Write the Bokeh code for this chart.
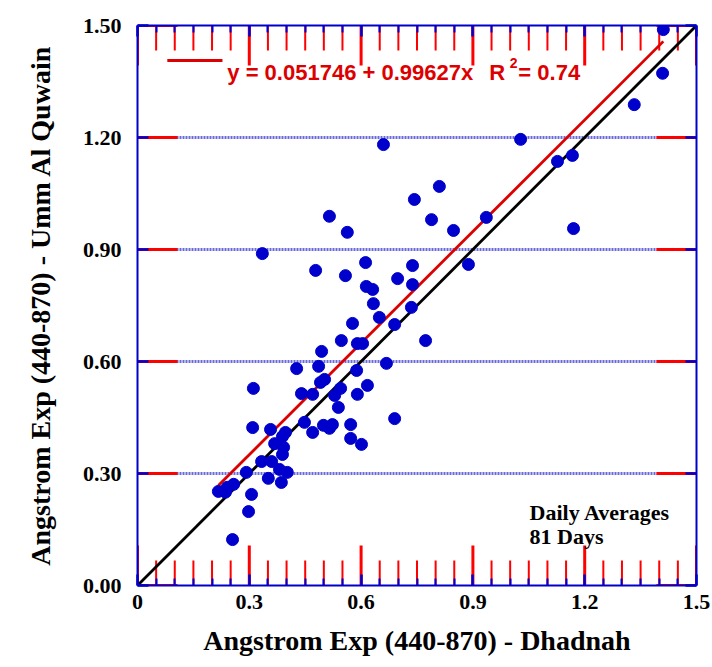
from bokeh.plotting import figure
from bokeh.models import (Range1d, FixedTicker, LinearAxis, CustomJSTickFormatter,
                          ColumnDataSource)
from bokeh.core.properties import value
from bokeh.embed import file_html
from bokeh.resources import INLINE

# ---- data ----
dhadnah = [0.217, 0.241, 0.258, 0.236, 0.306, 0.298, 0.255, 0.292, 0.333, 0.360,
           0.351, 0.386, 0.381, 0.402, 0.389, 0.392, 0.368, 0.389, 0.397, 0.357,
           0.309, 0.448, 0.470, 0.499, 0.523, 0.515, 0.572, 0.572, 0.601, 0.539,
           0.690, 0.311, 0.440, 0.470, 0.491, 0.502, 0.529, 0.545, 0.590, 0.617,
           0.427, 0.486, 0.588, 0.494, 0.668, 0.547, 0.590, 0.604, 0.577, 0.649,
           0.690, 0.773, 0.735, 0.633, 0.614, 0.631, 0.698, 0.738, 0.738, 0.612,
           0.478, 0.558, 0.335, 0.515, 0.563, 0.743, 0.789, 0.848, 0.888, 0.936,
           0.810, 0.660, 1.028, 1.127, 1.167, 1.170, 1.333, 1.409, 1.411]
umm_al_quwain = [0.252, 0.263, 0.271, 0.250, 0.244, 0.198, 0.123, 0.303, 0.332, 0.332,
                 0.287, 0.276, 0.311, 0.303, 0.351, 0.370, 0.380, 0.399, 0.410, 0.418,
                 0.423, 0.437, 0.410, 0.429, 0.431, 0.421, 0.431, 0.394, 0.378, 0.477,
                 0.447, 0.528, 0.514, 0.512, 0.544, 0.552, 0.509, 0.528, 0.512, 0.536,
                 0.581, 0.587, 0.576, 0.627, 0.595, 0.656, 0.648, 0.648, 0.702, 0.718,
                 0.699, 0.656, 0.745, 0.755, 0.801, 0.793, 0.822, 0.806, 0.857, 0.865,
                 0.844, 0.830, 0.889, 0.989, 0.946, 1.034, 0.980, 0.951, 0.860, 0.986,
                 1.069, 1.181, 1.195, 1.136, 1.152, 0.956, 1.288, 1.372, 1.489]

fit_intercept = 0.051746
fit_slope = 0.99627
fit_r2 = 0.74

x_ticks = [0, 0.3, 0.6, 0.9, 1.2, 1.5]
x_minor = [0.05, 0.1, 0.15, 0.2, 0.25, 0.35, 0.4, 0.45, 0.5, 0.55,
           0.65, 0.7, 0.75, 0.8, 0.85, 0.95, 1.0, 1.05, 1.1, 1.15,
           1.25, 1.3, 1.35, 1.4, 1.45]
y_ticks = [0.0, 0.3, 0.6, 0.9, 1.2, 1.5]

x_title = "Angstrom Exp (440-870) - Dhadnah"
y_title = "Angstrom Exp (440-870) - Umm Al Quwain"
note_lines = ["Daily Averages", "81 Days"]

BLUE = "#0000CC"
RED = "#DD0000"
SERIF = "Liberation Serif"
SANS = "Liberation Sans"

W, H = 712, 667
BL, BR, BT, BB = 137, 16, 25, 82

xlo, xhi = x_ticks[0], x_ticks[-1]
ylo, yhi = y_ticks[0], y_ticks[-1]
dx_px = (xhi - xlo) / (W - BL - BR)
dy_px = (yhi - ylo) / (H - BT - BB)

p = figure(width=W, height=H, x_range=Range1d(xlo, xhi),
           y_range=Range1d(ylo, yhi),
           output_backend="svg", toolbar_location=None,
           min_border_left=BL, min_border_right=BR, min_border_top=BT,
           min_border_bottom=BB)
p.outline_line_color = None

xt = FixedTicker(ticks=x_ticks, minor_ticks=x_minor)
yt = FixedTicker(ticks=y_ticks, minor_ticks=[])

def style_axis(ax, ticker, labels=True):
    ax.ticker = ticker
    ax.axis_line_color = BLUE
    ax.axis_line_width = 2
    ax.major_tick_line_color = BLUE
    ax.major_tick_line_width = 2.5
    ax.major_tick_in = 11
    ax.major_tick_out = 0
    ax.minor_tick_line_color = BLUE
    ax.minor_tick_line_width = 2
    ax.minor_tick_in = 7
    ax.minor_tick_out = 0
    if labels:
        ax.major_label_text_font = SERIF
        ax.major_label_text_font_style = "bold"
        ax.major_label_text_font_size = "22px"
        ax.major_label_text_color = "black"
        ax.axis_label_text_font = SERIF
        ax.axis_label_text_font_style = "bold"
        ax.axis_label_text_font_size = "28px"
        ax.axis_label_text_color = "black"
    else:
        ax.major_label_text_font_size = "1px"
        ax.major_label_text_color = None
        ax.major_label_standoff = 0

xa = p.xaxis[0]
style_axis(xa, xt)
xa.formatter = CustomJSTickFormatter(code="return tick == 0 ? '0' : tick.toFixed(1);")
xa.axis_label = x_title
xa.major_label_standoff = 9
xa.axis_label_standoff = 13

ya = p.yaxis[0]
style_axis(ya, yt)
ya.formatter = CustomJSTickFormatter(code="return tick.toFixed(2);")
ya.axis_label = y_title
ya.major_label_standoff = 16
ya.axis_label_standoff = 24

top = LinearAxis()
style_axis(top, xt, labels=False)
p.add_layout(top, "above")
right = LinearAxis()
style_axis(right, yt, labels=False)
p.add_layout(right, "right")

p.xgrid.visible = False
p.ygrid.ticker = FixedTicker(ticks=y_ticks[1:-1])
p.ygrid.grid_line_color = "#6A6ADC"
p.ygrid.grid_line_width = 3
p.ygrid.grid_line_dash = "2 1"

# inward tick marks drawn as segments (debug: long and red)
def vticks(xs, ybase, length_px, width):
    sgn = 1 if ybase == ylo else -1
    n = len(xs)
    p.segment(x0=list(xs), y0=[ybase] * n, x1=list(xs),
              y1=[ybase + sgn * length_px * dy_px] * n,
              line_color="red", line_width=width)

def hticks(ys, xbase, length_px, width):
    sgn = 1 if xbase == xlo else -1
    n = len(ys)
    p.segment(x0=[xbase] * n, y0=list(ys), x1=[xbase + sgn * length_px * dx_px] * n,
              y1=list(ys), line_color="red", line_width=width)

vticks(x_ticks, ylo, 40, 3)
vticks(x_minor, ylo, 25, 2)
vticks(x_ticks, yhi, 40, 3)
vticks(x_minor, yhi, 25, 2)
hticks(y_ticks, xlo, 40, 3)
hticks(y_ticks, xhi, 40, 3)

# 1:1 line
p.line(x=[xlo, xhi], y=[ylo, yhi], line_color="black", line_width=2.8)

# regression line
fx = [min(dhadnah), max(dhadnah)]
fy = [fit_intercept + fit_slope * v for v in fx]
p.line(x=fx, y=fy, line_color=RED, line_width=2.8)

# points
src = ColumnDataSource(dict(x=dhadnah, y=umm_al_quwain))
p.scatter("x", "y", source=src, size=12, fill_color=BLUE, line_color=BLUE)

# legend (fit equation)
p.line(x=[0.080, 0.228], y=[1.406, 1.406], line_color=RED, line_width=3)
eq_text = "y = %s + %sx" % (fit_intercept, fit_slope)
common = dict(text_font=value(SANS), text_font_style="bold", text_color=RED,
              text_baseline="alphabetic", text_align="left")
p.text(x=[0.241], y=[1.375], text=[eq_text], text_font_size="22px", **common)
p.text(x=[0.944], y=[1.375], text=["R"], text_font_size="22px", **common)
p.text(x=[0.999], y=[1.400], text=["2"], text_font_size="14px", **common)
p.text(x=[1.022], y=[1.375], text=["= %s" % fit_r2], text_font_size="22px", **common)

# note
p.text(x=[1.052, 1.052], y=[0.196, 0.130], text=note_lines, text_font=value(SERIF),
       text_font_style="bold", text_font_size="22px", text_color="black",
       text_baseline="alphabetic", text_align="left")

open("out.html", "w").write(file_html(p, INLINE))
